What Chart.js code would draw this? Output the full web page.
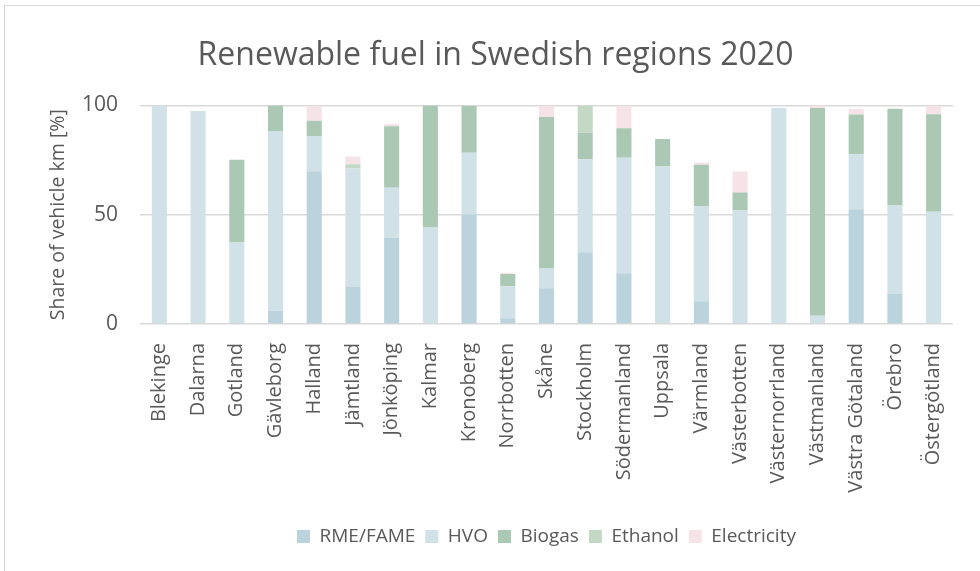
<!DOCTYPE html>
<html>
<head>
<meta charset="utf-8">
<script src="https://cdn.jsdelivr.net/npm/chart.js@4.4.0/dist/chart.umd.min.js"></script>
<style>
  html, body { margin: 0; padding: 0; background: #fff; }
  #wrap { position: relative; width: 980px; height: 571px; overflow: hidden; }
  #frame { position: absolute; left: 4px; top: 5px; width: 1000px; height: 600px; border: 1px solid #d9d9d9; box-sizing: border-box; }
  canvas { position: absolute; left: 0; top: 0; }
</style>
</head>
<body>
<div id="wrap">
  <div id="frame"></div>
  <canvas id="fuel" width="980" height="571"></canvas>
</div>
<script>
// Renewable fuel shares per region (% of vehicle km)
const regions = ['Blekinge','Dalarna','Gotland','Gävleborg','Halland','Jämtland','Jönköping','Kalmar','Kronoberg','Norrbotten','Skåne','Stockholm','Södermanland','Uppsala','Värmland','Västerbotten','Västernorrland','Västmanland','Västra Götaland','Örebro','Östergötland'];

const rme      = [0,   0,    0.7, 6.1,  69.9, 17.1, 39.5, 0,    50.1, 2.6,  16.3, 32.8, 23.2, 0,    10.4, 0.5,  0,    0,    52.5, 14.0, 0];
const hvo      = [100, 97.4, 36.6, 82.0, 16.1, 54.0, 22.8, 44.1, 28.2, 14.7, 9.3,  42.6, 52.8, 72.1, 43.3, 51.4, 98.8, 3.8,  25.1, 40.2, 51.3];
const biogas   = [0,   0,    37.8, 11.9, 7.0,  0,    28.2, 55.9, 21.4, 5.6,  69.1, 12.2, 13.6, 12.5, 19.1, 8.3,  0,    95.0, 18.1, 44.3, 44.7];
const ethanol  = [0,   0,    0,    0,    0,    2.0,  0,    0,    0,    0,    0,    12.4, 0,    0,    0,    0,    0,    0,    0.3,  0,    0];
const electric = [0,   0,    0,    0,    7.0,  3.5,  1.0,  0,    0,    0.6,  5.3,  0,    10.4, 0,    1.1,  9.6,  0,    1.2,  2.5,  0,    4.0];

const yTicks = [0, 50, 100];

const TXT = '#595959';
const FONT = "'Open Sans', 'DejaVu Sans', sans-serif";

function ds(label, data, color) {
  return { label, data, backgroundColor: color, borderWidth: 0, barPercentage: 0.39, categoryPercentage: 1 };
}

new Chart(document.getElementById('fuel'), {
  type: 'bar',
  data: {
    labels: regions,
    datasets: [
      ds('RME/FAME', rme, '#bad3dc'),
      ds('HVO', hvo, '#d0e1e8'),
      ds('Biogas', biogas, '#abc8b5'),
      ds('Ethanol', ethanol, '#c3d9c6'),
      ds('Electricity', electric, '#f5e3e7')
    ]
  },
  options: {
    responsive: false,
    animation: false,
    layout: { padding: { left: 38, right: 27, top: 0, bottom: 15 } },
    plugins: {
      title: {
        display: true,
        text: 'Renewable fuel in Swedish regions 2020',
        color: TXT,
        font: { family: FONT, size: 32, weight: 'normal' },
        padding: { top: 37, bottom: 30 }
      },
      legend: {
        position: 'bottom',
        fullSize: false,
        labels: {
          color: TXT,
          font: { family: FONT, size: 19 },
          boxWidth: 13,
          boxHeight: 13,
          padding: 10
        }
      },
      tooltip: { enabled: false }
    },
    scales: {
      x: {
        stacked: true,
        grid: { display: false },
        border: { display: false },
        ticks: {
          color: TXT,
          font: { family: FONT, size: 20 },
          minRotation: 90,
          maxRotation: 90,
          padding: 11,
          autoSkip: false
        },
        afterFit: s => { s.height = 193; }
      },
      y: {
        stacked: true,
        min: 0,
        max: 100,
        afterBuildTicks: s => { s.ticks = yTicks.map(v => ({ value: v })); },
        grid: { color: '#d9d9d9', lineWidth: 1.5, drawTicks: false },
        border: { display: false },
        ticks: {
          color: TXT,
          font: { family: FONT, size: 21 },
          padding: 22
        },
        title: {
          display: true,
          text: 'Share of vehicle km [%]',
          color: TXT,
          font: { family: FONT, size: 19.5 },
          padding: { top: 9, bottom: 0 }
        },
        afterFit: s => { s.width = 102; }
      }
    }
  }
});
</script>
</body>
</html>
